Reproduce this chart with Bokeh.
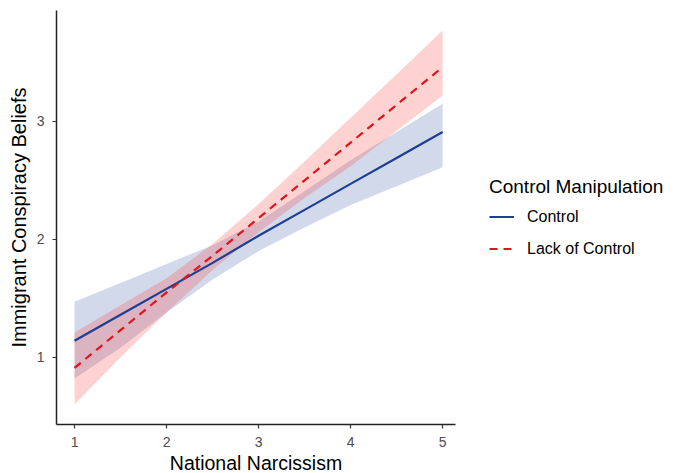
from bokeh.plotting import figure
from bokeh.models import ColumnDataSource, Range1d, Legend, LegendItem, FixedTicker
from bokeh.embed import file_html
from bokeh.resources import INLINE

# Data
x_vals = [1.0, 1.5, 2.0, 2.5, 3.0, 3.5, 4.0, 4.5, 5.0]
control_fit = [1.14, 1.36, 1.58, 1.80, 2.03, 2.25, 2.47, 2.69, 2.91]
control_lower = [0.82, 1.08, 1.38, 1.66, 1.90, 2.10, 2.29, 2.45, 2.61]
control_upper = [1.47, 1.63, 1.79, 1.95, 2.15, 2.41, 2.67, 2.91, 3.15]
lack_fit = [0.91, 1.23, 1.55, 1.86, 2.18, 2.50, 2.82, 3.14, 3.46]
lack_lower = [0.60, 1.00, 1.38, 1.74, 2.06, 2.35, 2.62, 2.92, 3.22]
lack_upper = [1.21, 1.44, 1.67, 1.96, 2.30, 2.66, 3.03, 3.40, 3.77]
x_ticks = [1, 2, 3, 4, 5]
y_ticks = [1, 2, 3]
legend_title = "Control Manipulation"
series_names = ["Control", "Lack of Control"]

FONT = "Liberation Sans"
BLUE = "#1c3f94"
RED = "#e3121b"

src_c = ColumnDataSource(dict(x=x_vals, y=control_fit, lo=control_lower, hi=control_upper))
src_l = ColumnDataSource(dict(x=x_vals, y=lack_fit, lo=lack_lower, hi=lack_upper))

p = figure(frame_width=399, frame_height=414, output_backend="svg", toolbar_location=None,
           x_range=Range1d(0.804, 5.14), y_range=Range1d(0.43, 3.94),
           min_border_left=56, min_border_top=10, min_border_bottom=48, min_border_right=200)
p.outline_line_color = None
p.xgrid.visible = False
p.ygrid.visible = False
p.background_fill_color = "white"
p.border_fill_color = "white"

p.varea(x="x", y1="lo", y2="hi", source=src_c, fill_color=BLUE, fill_alpha=0.2)
p.varea(x="x", y1="lo", y2="hi", source=src_l, fill_color="#ff2020", fill_alpha=0.2)
r_c = p.line(x="x", y="y", source=src_c, line_color=BLUE, line_width=2.2)
r_l = p.line(x="x", y="y", source=src_l, line_color=RED, line_width=2.2, line_dash="8 6")

for ax in (p.xaxis[0], p.yaxis[0]):
    ax.axis_line_color = "#222222"
    ax.axis_line_width = 1.5
    ax.major_tick_line_color = "#333333"
    ax.major_tick_line_width = 1.2
    ax.major_tick_out = 4
    ax.major_tick_in = 0
    ax.minor_tick_line_color = None
    ax.major_label_text_font = FONT
    ax.major_label_text_font_size = "14px"
    ax.major_label_text_color = "#4d4d4d"
    ax.axis_label_text_font = FONT
    ax.axis_label_text_font_style = "normal"
    ax.axis_label_text_color = "black"

p.xaxis.ticker = FixedTicker(ticks=x_ticks)
p.yaxis.ticker = FixedTicker(ticks=y_ticks)
p.xaxis.axis_label = "National Narcissism"
p.yaxis.axis_label = "Immigrant Conspiracy Beliefs"
p.xaxis.axis_label_text_font_size = "19.5px"
p.yaxis.axis_label_text_font_size = "20px"
p.xaxis.major_label_standoff = 8
p.yaxis.major_label_standoff = 8
p.xaxis.axis_label_standoff = 2
p.yaxis.axis_label_standoff = 4

legend = Legend(items=[LegendItem(label=series_names[0], renderers=[r_c]),
                       LegendItem(label=series_names[1], renderers=[r_l])],
                title=legend_title, location="center_left")
legend.title_text_font = FONT
legend.title_text_font_size = "19px"
legend.title_text_font_style = "normal"
legend.title_text_color = "black"
legend.title_standoff = 9
legend.label_text_font = FONT
legend.label_text_font_size = "16px"
legend.label_text_color = "black"
legend.glyph_width = 25
legend.glyph_height = 20
legend.label_standoff = 13
legend.spacing = 12
legend.border_line_color = None
legend.background_fill_alpha = 0
legend.padding = 0
legend.margin = 34
p.add_layout(legend, "right")

open("out.html", "w").write(file_html(p, INLINE))
